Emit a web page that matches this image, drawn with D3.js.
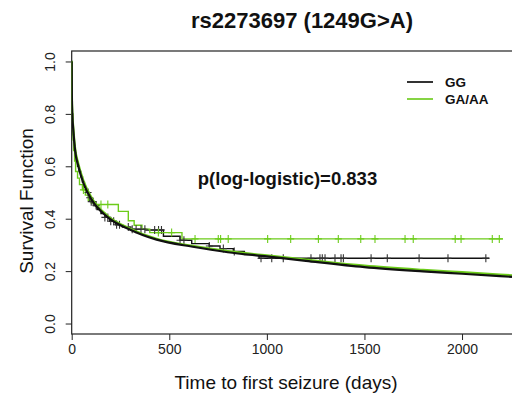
<!DOCTYPE html>
<html><head><meta charset="utf-8">
<script src="https://cdn.jsdelivr.net/npm/d3@7"></script>
<style>body{margin:0;background:#fff;font-family:"Liberation Sans",Arial,sans-serif}</style>
</head><body><svg id="c" width="512" height="397"></svg>
<script>
// ---- data ----
const xTicks = [0, 500, 1000, 1500, 2000];
const yTicks = [0.0, 0.2, 0.4, 0.6, 0.8, 1.0];
const groups = ["GG", "GA/AA"];
// Kaplan-Meier steps (time, survival after step)
const kmGG_t = [0,1,2,3,5,8,12,17,23,30,38,46,55,65,75,88,100,115,130,150,170,195,225,260,300,380,470,555,615,705,760,828,885,960,2140];
const kmGG_s = [1,0.90,0.84,0.80,0.76,0.72,0.68,0.65,0.62,0.60,0.58,0.56,0.54,0.52,0.50,0.48,0.465,0.45,0.435,0.42,0.405,0.39,0.377,0.368,0.36,0.357,0.333,0.318,0.305,0.296,0.286,0.275,0.263,0.249,0.249];
const kmGA_t = [0,1,2,4,7,10,15,20,30,40,55,70,85,100,120,239,290,320,360,400,565,2210];
const kmGA_s = [1,0.88,0.80,0.74,0.70,0.66,0.62,0.58,0.555,0.53,0.51,0.49,0.47,0.46,0.454,0.428,0.392,0.375,0.36,0.347,0.323,0.323];
// censoring times
const censGG = [84,92,100,110,125,170,185,200,215,230,245,290,310,330,355,375,425,445,460,555,575,705,777,833,970,1025,1084,1226,1272,1284,1298,1349,1380,1392,1534,1617,1780,1928,2122];
const censGA = [60,150,185,444,512,632,751,763,802,1004,1122,1264,1366,1481,1554,1708,1750,1965,1995,2155,2191];
// fitted log-logistic curves (time, survival)
const fitGG_t = [0,1,3,8,17,34,60,102,179,300,435,620,800,1000,1200,1500,1800,2000,2256];
const fitGG_s = [1.0,0.86,0.80,0.74,0.663,0.60,0.536,0.473,0.409,0.358,0.32,0.293,0.272,0.256,0.239,0.215,0.199,0.19,0.178];
const fitGA_t = [0,1,3,8,17,34,60,102,179,300,435,620,800,1000,1200,1500,1800,2000,2256];
const fitGA_s = [1.0,0.87,0.81,0.75,0.672,0.61,0.545,0.48,0.414,0.362,0.323,0.296,0.276,0.26,0.244,0.221,0.205,0.196,0.184];

const colGG = "#111111", colGA = "#6ccc1a";

const svg = d3.select("#c");
const x = d3.scaleLinear().domain([0, 2256]).range([71.7, 512]);
const y = d3.scaleLinear().domain([-0.04, 1.04]).range([334, 51]);

// frame
svg.append("rect").attr("x", 71.7).attr("y", 51).attr("width", 500).attr("height", 283)
  .attr("fill", "none").attr("stroke", "#222").attr("stroke-width", 1.2);

// axes
const xa = svg.append("g").attr("transform", "translate(0,334)")
  .call(d3.axisBottom(x).tickValues(xTicks).tickSize(6).tickPadding(4).tickFormat(d3.format("d")));
xa.select(".domain").remove();
xa.selectAll("line").attr("stroke", "#222");
xa.selectAll("text").attr("font-size", 14).attr("fill", "#222").attr("font-family", "Liberation Sans, Arial");

const ya = svg.append("g").attr("transform", "translate(71.7,0)")
  .call(d3.axisLeft(y).tickValues(yTicks).tickSize(6).tickFormat(d3.format(".1f")));
ya.select(".domain").remove();
ya.selectAll("line").attr("stroke", "#222");
ya.selectAll("text").attr("font-size", 14).attr("fill", "#222").attr("font-family", "Liberation Sans, Arial")
  .attr("text-anchor", "middle").attr("x", 0).attr("dy", 0)
  .attr("transform", "translate(-16.7,0) rotate(-90)");

// clip
svg.append("clipPath").attr("id", "clip").append("rect").attr("x", 71.7).attr("y", 51).attr("width", 441).attr("height", 283);
const plot = svg.append("g").attr("clip-path", "url(#clip)");

function zip(t, s) { return t.map((d, i) => [d, s[i]]); }
function stepAt(t, s, v) { let r = s[0]; for (let i = 0; i < t.length; i++) { if (t[i] <= v) r = s[i]; } return r; }

const stepLine = d3.line().x(d => x(d[0])).y(d => y(d[1])).curve(d3.curveStepAfter);
const smooth = d3.line().x(d => x(d[0])).y(d => y(d[1])).curve(d3.curveMonotoneX);

// KM
plot.append("path").attr("d", stepLine(zip(kmGG_t, kmGG_s))).attr("fill", "none").attr("stroke", colGG).attr("stroke-width", 1.4);
plot.append("path").attr("d", stepLine(zip(kmGA_t, kmGA_s))).attr("fill", "none").attr("stroke", colGA).attr("stroke-width", 1.4);

// censor marks
function marks(times, t, s, col) {
  const g = plot.append("g").attr("stroke", col).attr("stroke-width", 1.1);
  times.forEach(c => {
    const cx = x(c), cy = y(stepAt(t, s, c));
    g.append("line").attr("x1", cx).attr("x2", cx).attr("y1", cy - 4).attr("y2", cy + 4);
    g.append("line").attr("x1", cx - 3.5).attr("x2", cx + 3.5).attr("y1", cy).attr("y2", cy);
  });
}
marks(censGG, kmGG_t, kmGG_s, "#333");
marks(censGA, kmGA_t, kmGA_s, colGA);

// fitted
plot.append("path").attr("d", smooth(zip(fitGA_t, fitGA_s))).attr("fill", "none").attr("stroke", colGA).attr("stroke-width", 2.2);
plot.append("path").attr("d", smooth(zip(fitGG_t, fitGG_s))).attr("fill", "none").attr("stroke", colGG).attr("stroke-width", 2.2);

// legend
const legCols = [colGG, "#86d444"];
groups.forEach((g, i) => {
  const yy = 82 + i * 17;
  svg.append("line").attr("x1", 407).attr("x2", 433).attr("y1", yy).attr("y2", yy).attr("stroke", i ? legCols[1] : "#333").attr("stroke-width", 2);
  svg.append("text").attr("x", 445).attr("y", yy + 5).attr("font-size", 13.5).attr("font-weight", "bold").attr("fill", "#111").text(g);
});

// texts
svg.append("text").attr("x", 302).attr("y", 28).attr("text-anchor", "middle").attr("font-size", 22).attr("font-weight", "bold").attr("fill", "#111").text("rs2273697 (1249G>A)");
svg.append("text").attr("x", 287.5).attr("y", 185).attr("text-anchor", "middle").attr("font-size", 18.5).attr("font-weight", "bold").attr("fill", "#111").text("p(log-logistic)=0.833");
svg.append("text").attr("x", 286).attr("y", 389).attr("text-anchor", "middle").attr("font-size", 19).attr("fill", "#111").text("Time to first seizure (days)");
svg.append("text").attr("transform", "translate(33,201) rotate(-90)").attr("text-anchor", "middle").attr("font-size", 19).attr("fill", "#111").text("Survival Function");
</script></body></html>
